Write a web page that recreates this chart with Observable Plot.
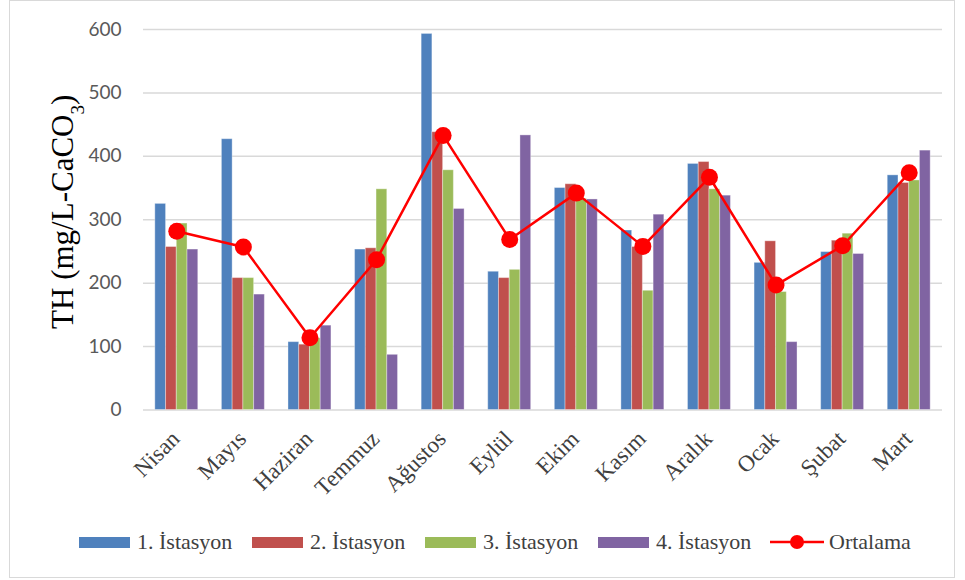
<!DOCTYPE html>
<html>
<head>
<meta charset="utf-8">
<script src="https://cdn.jsdelivr.net/npm/d3@7"></script>
<script src="https://cdn.jsdelivr.net/npm/@observablehq/plot@0.6"></script>
<style>
  html, body { margin: 0; padding: 0; background: #fff; }
  #wrap { position: relative; width: 965px; height: 580px; overflow: hidden; }
  #chart { position: absolute; left: 0; top: 0; }
  #border { position: absolute; left: 9px; top: 0; width: 946px; height: 578px; border: 1.5px solid #d9d9d9; box-sizing: border-box; pointer-events: none; }
  #legend { position: absolute; left: 0; top: 530px; width: 965px; height: 24px; font-family: "Liberation Serif", "Times New Roman", serif; font-size: 22px; color: #404040; }
  .item { position: absolute; top: 0; height: 24px; display: flex; align-items: center; white-space: nowrap; }
  .sw { width: 51px; height: 11px; margin-right: 7px; }
  .ln { width: 54px; height: 24px; margin-right: 5px; }
</style>
</head>
<body>
<div id="wrap">
  <div id="chart"></div>
  <div id="legend"></div>
  <div id="border"></div>
</div>
<script>
const months = ["Nisan","Mayıs","Haziran","Temmuz","Ağustos","Eylül","Ekim","Kasım","Aralık","Ocak","Şubat","Mart"];
const seriesNames = ["1. İstasyon","2. İstasyon","3. İstasyon","4. İstasyon"];
const avgName = "Ortalama";
const station1 = [325,427,107,253,593,218,350,283,388,232,249,370];
const station2 = [257,208,103,255,438,208,356,257,391,266,267,358];
const station3 = [294,208,113,348,378,221,333,188,348,186,278,362];
const station4 = [253,182,133,87,317,433,332,308,338,107,246,409];
const average  = [282,257,114,237,433,269,342,258,367,197,259,374];
const yTicks = [0,100,200,300,400,500,600];
const colors = ["#4f81bd","#c0504d","#9bbb59","#8064a2"];
const lineColor = "#ff0000";

const stations = [station1, station2, station3, station4];

const W = 965, H = 580, ML = 143, MR = 23, MT = 29, MB = 170.5;
const bw = (W - ML - MR) / months.length;
const groupW = 0.645 * bw;
const barW = groupW / 4;

const barMarks = stations.map((vals, k) => {
  const data = months.map((m, i) => ({month: m, value: vals[i]}));
  const insetLeft = (bw - groupW) / 2 + k * barW;
  const insetRight = bw - insetLeft - barW;
  return Plot.barY(data, {
    x: "month", y: "value", fill: colors[k],
    insetLeft, insetRight,
    stroke: "#ffffff", strokeOpacity: 0.35, strokeWidth: 1
  });
});

const avgData = months.map((m, i) => ({month: m, value: average[i]}));

const chart = Plot.plot({
  width: W, height: H,
  marginLeft: ML, marginRight: MR, marginTop: MT, marginBottom: MB,
  style: {overflow: "visible"},
  x: {domain: months, padding: 0, round: false, axis: null},
  y: {domain: [0, 600], ticks: yTicks, axis: null},
  marks: [
    Plot.ruleY(yTicks, {stroke: "#d9d9d9", strokeWidth: 1.5}),
    Plot.axisY({ticks: yTicks, tickSize: 0, tickPadding: 22, fontSize: 19,
      fontFamily: "Lato, 'Noto Sans', sans-serif", fill: "#595959", label: null}),
    ...barMarks,
    Plot.line(avgData, {x: "month", y: "value", stroke: lineColor, strokeWidth: 2.5}),
    Plot.dot(avgData, {x: "month", y: "value", r: 8.5, fill: lineColor, stroke: "none"}),
    Plot.text(months, {x: d => d, frameAnchor: "bottom", rotate: -45, textAnchor: "end",
      lineAnchor: "middle", dx: -1, dy: 25, fontSize: 23,
      fontFamily: "'Liberation Serif', 'Times New Roman', serif", fill: "#404040"}),
    Plot.text(["TH (mg/L-CaCO3)"], {frameAnchor: "left", rotate: -90, textAnchor: "middle",
      lineAnchor: "bottom", dx: -71, dy: -8, fontSize: 31,
      fontFamily: "'Liberation Serif', 'Times New Roman', serif", fill: "#000", className: "ytitle"})
  ]
});
document.getElementById("chart").appendChild(chart);

// subscript for CaCO3
d3.select(chart).selectAll("g.ytitle text").each(function() {
  const t = d3.select(this);
  const s = t.text();
  if (s.endsWith("3)")) {
    t.text(null);
    t.append("tspan").text(s.slice(0, -2));
    t.append("tspan").attr("baseline-shift", "sub").attr("font-size", "62%").text("3");
    t.append("tspan").text(")");
  }
});

// legend
const legend = document.getElementById("legend");
const lefts = [79, 252, 425, 598, 770];
seriesNames.forEach((name, k) => {
  const it = document.createElement("div");
  it.className = "item";
  it.style.left = lefts[k] + "px";
  it.innerHTML = `<div class="sw" style="background:${colors[k]}"></div><span>${name}</span>`;
  legend.appendChild(it);
});
{
  const it = document.createElement("div");
  it.className = "item";
  it.style.left = lefts[4] + "px";
  it.innerHTML = `<svg class="ln" viewBox="0 0 54 24"><line x1="0" y1="12" x2="54" y2="12" stroke="${lineColor}" stroke-width="2.5"/><circle cx="27" cy="12" r="7" fill="${lineColor}"/></svg><span>${avgName}</span>`;
  legend.appendChild(it);
}
</script>
</body>
</html>
